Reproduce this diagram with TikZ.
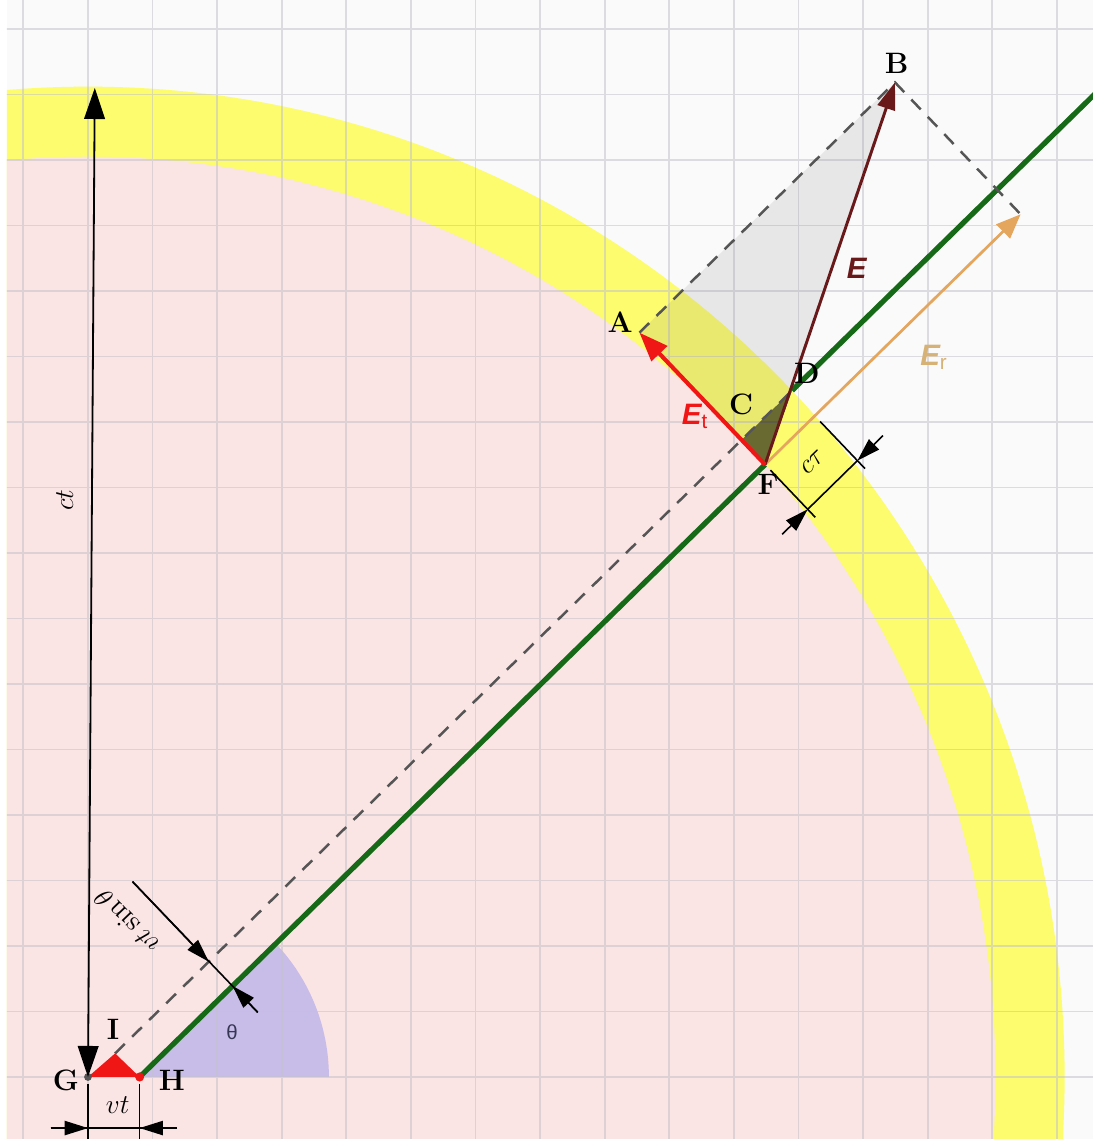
\documentclass[tikz,border=0pt]{standalone}
\usepackage{fontspec}
\newfontfamily\vecfont{Liberation Sans}
\usepackage{xcolor}
\usepackage{tikz}
\usetikzlibrary{arrows.meta, calc}

\definecolor{paper}{RGB}{250,250,251}
\definecolor{gridgray}{RGB}{196,194,202}
\definecolor{innerpink}{RGB}{251,228,228}
\definecolor{shellyellow}{RGB}{252,252,110}
\definecolor{wedgeblue}{RGB}{200,188,232}
\definecolor{srcred}{RGB}{240,22,22}
\definecolor{fieldgreen}{RGB}{22,105,22}
\definecolor{guidegray}{RGB}{85,85,85}
\definecolor{emaroon}{RGB}{105,25,25}
\definecolor{erorange}{RGB}{228,165,92}
\definecolor{erlabel}{RGB}{215,178,118}
\definecolor{thetablue}{RGB}{55,55,85}

\begin{document}
\begin{tikzpicture}[
  x=1cm, y=1.014cm,
  ptlabel/.style={
    font=\fontsize{13}{15}\selectfont\bfseries,
    inner sep=1pt
  },
  dimtext/.style={
    font=\fontsize{12.5}{14}\selectfont,
    inner sep=1pt
  },
  veclabel/.style={
    font=\vecfont\fontsize{13}{15}\selectfont\bfseries\itshape,
    inner sep=1pt
  },
  gridline/.style={
    draw=gridgray,
    line width=0.8pt,
    opacity=0.55
  },
  fieldline/.style={
    draw=fieldgreen,
    line width=2.3pt
  },
  guide/.style={
    draw=guidegray,
    line width=1.1pt,
    dash pattern=on 6pt off 4.5pt
  },
  dimline/.style={
    draw=black,
    line width=0.7pt
  },
  dimarrow/.style={
    dimline,
    -{Triangle[length=0.36cm, width=0.22cm]}
  },
  ctarrow/.style={
    draw=black,
    line width=0.8pt,
    {Triangle[length=0.48cm, width=0.32cm]}-{Triangle[length=0.48cm, width=0.32cm]}
  },
  vecEt/.style={
    draw=srcred,
    line width=1.8pt,
    -{Triangle[length=0.45cm, width=0.33cm]}
  },
  vecE/.style={
    draw=emaroon,
    line width=1.3pt,
    -{Triangle[length=0.42cm, width=0.28cm]}
  },
  vecEr/.style={
    draw=erorange,
    line width=1.2pt,
    -{Triangle[length=0.38cm, width=0.30cm]}
  }
]

% Frame
\useasboundingbox (-1.362,-0.947) rectangle (15.557,16.443);
\fill[white] (-1.362,-0.947) rectangle (15.557,16.443);
\fill[paper] (-1.254,-0.947) rectangle (15.557,16.443);

% Points
\coordinate (G) at (0,0);
\coordinate (H) at (0.8,0);
\coordinate (I) at (0.42,0.36);
\coordinate (F) at ($(H)+(44:13.46)$);
\coordinate (D) at ($(I)+(44:14.57)$);
\coordinate (C) at ($(I)!(F)!(D)$);
\coordinate (A) at ($(F)+(134:2.8)$);
\coordinate (R) at ($(F)+(44:5.5)$);
\coordinate (B) at ($(A)+(44:5.5)$);
\coordinate (T) at (89.6:15.1);
\coordinate (Dfar) at ($(D)+(44:8)$);

\begin{scope}
\clip (-1.254,-0.947) rectangle (15.557,16.443);

% Shells
\fill[shellyellow] (G) circle (15.12);
\fill[innerpink] (G) circle (14.05);

% Angle wedge
\fill[wedgeblue] (H) -- ++(2.93,0) arc[start angle=0, end angle=44, radius=2.93] -- cycle;

% Grid
\draw[gridline, step={(1,1)}] (-2,-1) grid (16,17);

% Field triangles
\fill[black!50, opacity=0.15] (A) -- (B) -- (F) -- cycle;
\fill[black, opacity=0.55] (C) -- (D) -- (F) -- cycle;

% Field lines
\draw[guide] (I) -- (D);
\draw[fieldline] (H) -- (F);
\draw[fieldline] (D) -- (Dfar);
\draw[guide] (A) -- (B) -- (R);

% Field vectors
\draw[vecEr] (F) -- (R);
\draw[vecE] (F) -- (B);
\draw[vecEt] (F) -- (A);

% Source
\fill[srcred] (G) -- (H) -- (I) -- cycle;
\fill[guidegray] (G) circle (0.06);
\fill[srcred] (H) circle (0.07);

% ---------------- ct ----------------
\draw[ctarrow] (G) -- (T);
\node[dimtext, rotate=90] (ct) at (-0.36,8.81) {$ct$};

% ---------------- vt ----------------
\coordinate (Gt) at (0,-0.1);
\coordinate (Gb) at (0,-1);
\coordinate (Ht) at (0.8,-0.1);
\coordinate (Hb) at (0.8,-1);
\coordinate (Gm) at (0,-0.78);
\coordinate (Hm) at (0.8,-0.78);
\coordinate (Ga) at (-0.58,-0.78);
\coordinate (Ha) at (1.38,-0.78);
\draw[dimline] (Gt) -- (Gb);
\draw[dimline] (Ht) -- (Hb);
\draw[dimline] (Ga) -- (Ha);
\draw[dimarrow] (Ga) -- (Gm);
\draw[dimarrow] (Ha) -- (Hm);
\node[dimtext] (vt) at (0.46,-0.43) {$vt$};

% ---------------- vt sin theta ----------------
\coordinate (Q2) at ($(H)+(44:2)$);
\coordinate (Q1) at ($(I)!(Q2)!(D)$);
\coordinate (Q1out) at ($(Q1)+(134:1.7)$);
\coordinate (Q2out) at ($(Q2)+(-46:0.56)$);
\draw[dimline] (Q1out) -- (Q2out);
\draw[dimarrow] (Q1out) -- (Q1);
\draw[dimarrow] (Q2out) -- (Q2);
\node[dimtext, rotate=134] (vtsin) at (0.60,2.37) {$vt\sin\theta$};
\node[font=\vecfont\fontsize{9}{9}\selectfont, text=thetablue] (theta) at (2.23,0.69) {θ};

% ---------------- c tau ----------------
\coordinate (F2) at ($(F)+(44:1.07)$);
\coordinate (Fe1) at ($(F)+(-46:0.12)$);
\coordinate (Fe2) at ($(F)+(-46:1.12)$);
\coordinate (F2e1) at ($(F2)+(-46:0.12)$);
\coordinate (F2e2) at ($(F2)+(-46:1.12)$);
\coordinate (Fm) at ($(F)+(-46:0.95)$);
\coordinate (F2m) at ($(F2)+(-46:0.95)$);
\coordinate (Fa) at ($(Fm)+(224:0.55)$);
\coordinate (F2a) at ($(F2m)+(44:0.55)$);
\draw[dimline] (Fe1) -- (Fe2);
\draw[dimline] (F2e1) -- (F2e2);
\draw[dimline] (Fm) -- (F2m);
\draw[dimarrow] (Fa) -- (Fm);
\draw[dimarrow] (F2a) -- (F2m);
\node[dimtext, rotate=44] (ctau) at (11.22,9.39) {$c\tau$};

\end{scope}

% Point labels
\node[ptlabel] (labA) at (8.24,11.53) {A};
\node[ptlabel] (labB) at (12.52,15.48) {B};
\node[ptlabel] (labC) at (10.11,10.27) {C};
\node[ptlabel] (labD) at (11.13,10.74) {D};
\node[ptlabel] (labF) at (10.53,9.04) {F};
\node[ptlabel] (labG) at (-0.34,-0.05) {G};
\node[ptlabel] (labH) at (1.30,-0.05) {H};
\node[ptlabel] (labI) at (0.39,0.72) {I};

% Vector labels
\node[veclabel, text=emaroon] (labE) at (11.90,12.35) {E};
\node[veclabel, text=srcred] (labEt) at (9.40,10.08) {E\textsubscript{\upshape\mdseries t}};
\node[veclabel, text=erlabel] (labEr) at (13.10,10.99) {E\textsubscript{\upshape\mdseries r}};

\end{tikzpicture}
\end{document}
